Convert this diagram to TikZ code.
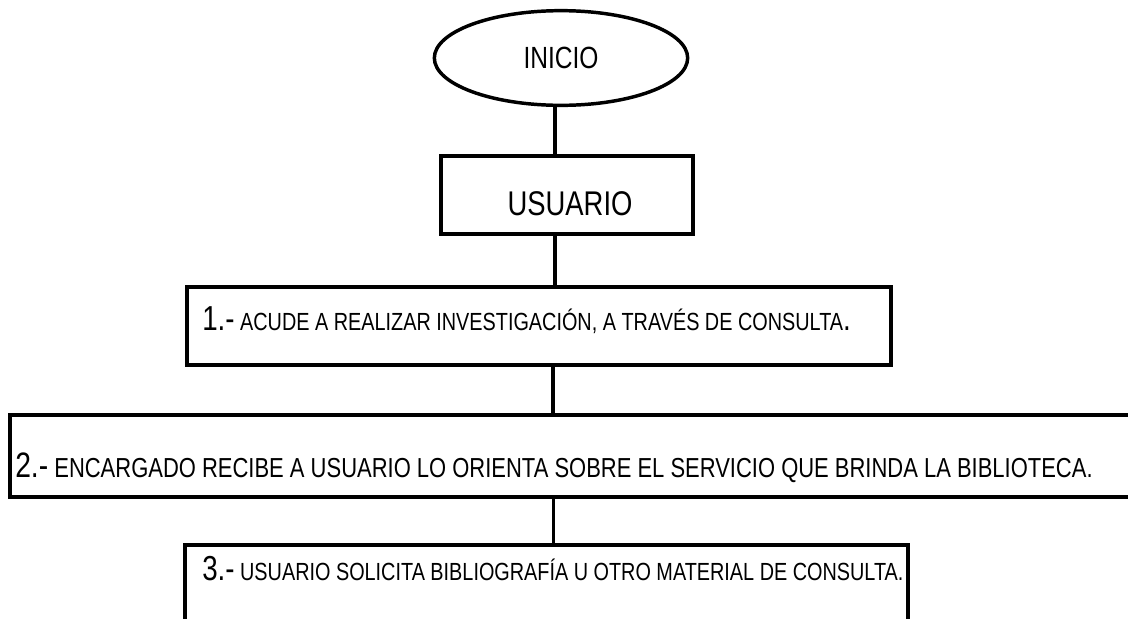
\documentclass[tikz,border=0pt]{standalone}
\usepackage{fontspec}
\setmainfont[FakeStretch=0.8]{Liberation Sans}
\usetikzlibrary{shapes.geometric}

\begin{document}
\begin{tikzpicture}[x=0.75pt,y=0.75pt,yscale=-1,xscale=1,
  caja/.style={draw, line width=2.6pt, rectangle, inner sep=0pt},
  linea/.style={line width=2.6pt},
  texto/.style={anchor=base west, inner sep=0pt, font=\fontsize{18.6}{22}\selectfont}]
\useasboundingbox (0,0) rectangle (1128,618);

%Shape: Ellipse
\node (inicio) [draw, ellipse, line width=2.6pt, inner sep=0pt, minimum width=190pt, minimum height=71pt, font=\fontsize{23}{27}\selectfont] at (561,58) {INICIO};
%Shape: Rectangle
\node (usuario) [caja, minimum width=189pt, minimum height=58.5pt] at (567,195) {};
%Shape: Rectangle
\node (paso1) [caja, minimum width=528pt, minimum height=58.5pt] at (539,326) {};
%Shape: Rectangle
\node (paso2) [caja, minimum width=840.75pt, minimum height=61.5pt] at (570.5,456) {};
%Shape: Rectangle
\node (paso3) [caja, minimum width=542.25pt, minimum height=116.25pt] at (546.5,622.5) {};

%Straight Lines
\draw [linea] ([xshift=-4.5pt]inicio.south) -- ([xshift=-4.5pt]inicio.south |- usuario.north) ;
%Straight Lines
\draw [linea] ([xshift=-9pt]usuario.south) -- ([xshift=-9pt]usuario.south |- paso1.north) ;
%Straight Lines
\draw [linea] ([xshift=10.5pt]paso1.south) -- ([xshift=10.5pt]paso1.south |- paso2.north) ;
%Straight Lines
\draw [linea] ([xshift=-12.75pt]paso2.south) -- ([xshift=-12.75pt]paso2.south |- paso3.north) ;

% Text Node
\node (t0) [inner sep=0pt, font=\fontsize{25.7}{30}\selectfont] at (570,204) {USUARIO};
% Text Node
\node (t1) [texto] at (202,330) {{\fontsize{26}{30}\selectfont 1.-} ACUDE A REALIZAR INVESTIGACIÓN, A TRAVÉS DE CONSULTA{\fontsize{26}{30}\selectfont .}};
% Text Node
\node (t2) [texto, font=\fontsize{20.6}{24}\selectfont] at (15,477) {{\fontsize{26.5}{30}\selectfont 2.-} ENCARGADO RECIBE A USUARIO LO ORIENTA SOBRE EL SERVICIO QUE BRINDA LA BIBLIOTECA.};
% Text Node
\node (t3) [texto] at (202,580) {{\fontsize{26}{30}\selectfont 3.-} USUARIO SOLICITA BIBLIOGRAFÍA U OTRO MATERIAL DE CONSULTA.};

\end{tikzpicture}
\end{document}
